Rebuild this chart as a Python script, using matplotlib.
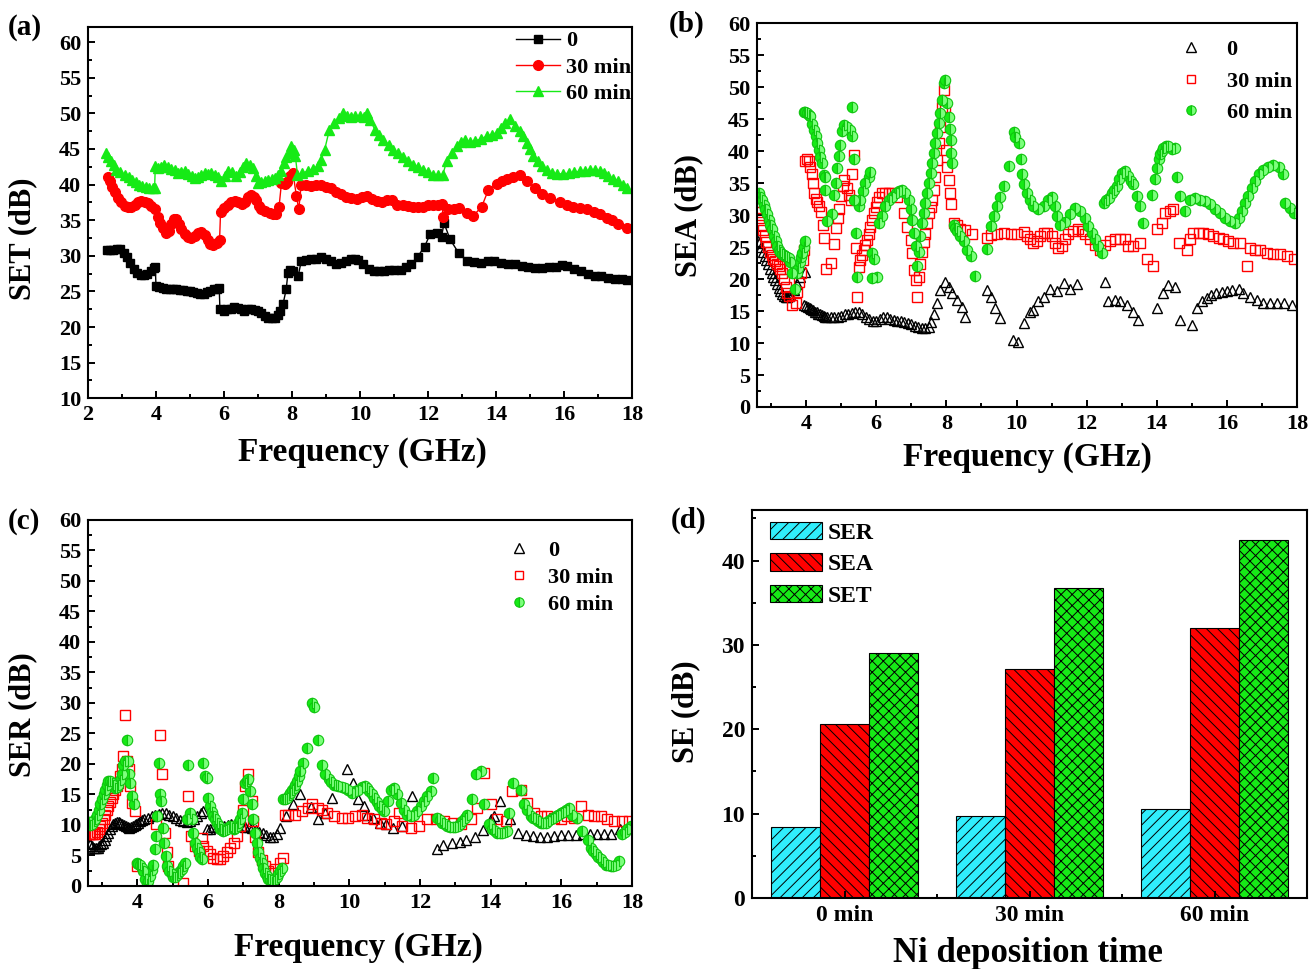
import numpy as np
import matplotlib.pyplot as plt
from matplotlib.ticker import MultipleLocator

plt.rcParams['font.family'] = ['Liberation Serif', 'DejaVu Serif']
plt.rcParams['font.weight'] = 'bold'
plt.rcParams['axes.labelweight'] = 'bold'
plt.rcParams['hatch.linewidth'] = 0.7

GREEN = '#16ea16'
RED = '#ff0000'
CYAN = '#30eefc'

# ---------------- (a) SET vs frequency ----------------
fa0 = [2.55, 2.65, 2.75, 2.85, 2.95, 3.05, 3.15, 3.25, 3.35, 3.45, 3.55, 3.65, 3.75, 3.85, 3.93, 3.98,
       4.0, 4.1, 4.2, 4.3, 4.4, 4.5, 4.6, 4.7, 4.8, 4.9, 5.0, 5.1, 5.2, 5.3, 5.4, 5.5, 5.6, 5.7, 5.8, 5.86,
       5.88, 6.0, 6.1, 6.2, 6.3, 6.4, 6.5, 6.6, 6.7, 6.8, 6.9, 7.0, 7.1, 7.2, 7.3, 7.4, 7.5, 7.6, 7.65,
       7.74, 7.83, 7.88, 7.95, 8.03, 8.18, 8.27, 8.4, 8.55, 8.7, 8.86, 9.0, 9.15, 9.3, 9.45, 9.6, 9.75,
       9.84, 9.95, 10.1, 10.25, 10.4, 10.55, 10.7, 10.85, 11.0, 11.2, 11.35, 11.5, 11.7, 11.9, 12.06,
       12.25, 12.4, 12.47, 12.65, 12.9, 13.14, 13.35, 13.55, 13.75, 13.95, 14.15, 14.35, 14.55, 14.75,
       14.95, 15.15, 15.35, 15.55, 15.75, 15.95, 16.1, 16.3, 16.5, 16.7, 16.9, 17.1, 17.3, 17.5, 17.7, 17.85]
set0 = [30.8, 30.8, 30.8, 31.0, 30.9, 30.4, 29.8, 29.0, 28.2, 27.6, 27.3, 27.3, 27.5, 27.9, 28.3, 28.4,
        25.8, 25.6, 25.5, 25.4, 25.4, 25.3, 25.3, 25.2, 25.2, 25.1, 25.1, 24.9, 24.8, 24.7, 24.7, 24.9, 25.1, 25.3, 25.4, 25.5,
        22.5, 22.3, 22.5, 22.6, 22.8, 22.7, 22.5, 22.3, 22.5, 22.5, 22.4, 22.2, 21.9, 21.6, 21.3, 21.2, 21.3, 21.7, 22.3,
        23.3, 25.3, 27.6, 28.0, 27.8, 27.1, 29.2, 29.4, 29.5, 29.6, 29.8, 29.6, 29.3, 28.9, 29.0, 29.3, 29.5,
        29.6, 29.4, 28.8, 28.2, 27.9, 27.8, 27.9, 28.0, 28.0, 28.0, 28.4, 28.8, 29.9, 31.3, 33.0,
        33.2, 32.7, 34.6, 32.3, 30.4, 29.3, 29.1, 29.0, 29.2, 29.2, 29.0, 28.9, 28.8, 28.6,
        28.4, 28.3, 28.3, 28.4, 28.4, 28.7, 28.6, 28.2, 27.8, 27.4, 27.1, 27.1, 26.9, 26.8, 26.7, 26.6]

fa30 = [2.58, 2.65, 2.72, 2.8, 2.88, 2.97, 3.08, 3.18, 3.27, 3.37, 3.47, 3.57, 3.67, 3.76, 3.86, 3.96,
        4.06, 4.13, 4.2, 4.3, 4.38, 4.45, 4.53, 4.6, 4.68, 4.75, 4.85, 4.94, 5.04, 5.14, 5.24, 5.33, 5.43,
        5.53, 5.6, 5.68, 5.78, 5.87, 5.9, 6.0, 6.12, 6.22, 6.31, 6.42, 6.52, 6.62, 6.72, 6.8, 6.88, 6.95,
        7.03, 7.1, 7.22, 7.34, 7.44, 7.54, 7.62, 7.69, 7.78, 7.86, 7.95, 8.03, 8.13, 8.2, 8.27, 8.4, 8.55,
        8.7, 8.86, 9.0, 9.15, 9.3, 9.45, 9.6, 9.75, 9.9, 10.05, 10.2, 10.35, 10.5, 10.65, 10.8, 10.95,
        11.08, 11.25, 11.4, 11.55, 11.7, 11.85, 12.0, 12.15, 12.3, 12.4, 12.45, 12.6, 12.75, 12.9, 13.14,
        13.33, 13.58, 13.77, 14.02, 14.18, 14.31, 14.5, 14.7, 14.9, 15.15, 15.34, 15.6, 15.88, 16.08,
        16.27, 16.47, 16.67, 16.87, 17.06, 17.25, 17.4, 17.6, 17.84]
set30 = [41.0, 40.5, 39.7, 38.9, 38.1, 37.5, 37.0, 36.9, 36.9, 37.2, 37.6, 37.7, 37.6, 37.4, 37.0, 36.6,
         35.5, 34.6, 33.9, 33.2, 33.5, 34.5, 35.1, 35.2, 34.5, 33.8, 33.1, 32.6, 32.5, 32.8, 33.2, 33.4, 32.9,
         32.2, 31.7, 31.5, 31.8, 32.2, 36.2, 36.7, 37.2, 37.5, 37.7, 37.5, 37.3, 37.6, 38.2, 38.6, 38.3, 37.8,
         37.0, 36.6, 36.3, 36.0, 35.8, 35.8, 36.9, 40.2, 40.1, 40.4, 41.2, 41.6, 38.4, 36.5, 40.0, 39.9, 39.8,
         39.9, 40.0, 39.7, 39.5, 39.0, 38.7, 38.3, 38.1, 38.0, 38.3, 38.4, 38.0, 37.7, 37.6, 37.8, 37.9,
         37.2, 37.1, 37.0, 36.9, 36.9, 36.9, 37.1, 37.1, 37.2, 37.3, 35.5, 36.5, 36.6, 36.7, 36.0,
         35.6, 36.9, 39.2, 40.1, 40.5, 40.8, 41.0, 41.3, 40.5, 39.5, 38.7, 38.1, 37.6, 37.2,
         36.9, 36.7, 36.5, 36.2, 35.8, 35.3, 35.0, 34.4, 33.9]

fa60 = [2.54, 2.6, 2.69, 2.76, 2.83, 2.95, 3.08, 3.2, 3.3, 3.4, 3.5, 3.6, 3.7, 3.8, 3.9, 3.96, 3.98, 4.05,
        4.15, 4.25, 4.35, 4.45, 4.55, 4.65, 4.75, 4.84, 4.95, 5.05, 5.14, 5.24, 5.33, 5.43, 5.53, 5.63,
        5.73, 5.83, 5.92, 6.02, 6.12, 6.24, 6.36, 6.46, 6.56, 6.66, 6.76, 6.85, 6.93, 7.0, 7.1, 7.2, 7.3,
        7.4, 7.49, 7.6, 7.69, 7.76, 7.83, 7.9, 7.98, 8.05, 8.1, 8.16, 8.3, 8.47, 8.62, 8.76, 8.86, 8.96,
        9.1, 9.25, 9.38, 9.5, 9.62, 9.74, 9.86, 10.0, 10.12, 10.2, 10.3, 10.44, 10.56, 10.69, 10.84,
        10.98, 11.12, 11.27, 11.42, 11.57, 11.72, 11.86, 12.0, 12.16, 12.3, 12.43, 12.55, 12.7, 12.84,
        12.97, 13.09, 13.23, 13.38, 13.55, 13.73, 13.88, 14.02, 14.14, 14.26, 14.41, 14.56, 14.7, 14.8,
        14.9, 15.0, 15.1, 15.22, 15.34, 15.5, 15.64, 15.8, 15.98, 16.15, 16.3, 16.47, 16.62, 16.76,
        16.91, 17.05, 17.18, 17.3, 17.45, 17.6, 17.72, 17.84]
set60 = [44.5, 43.9, 43.3, 42.7, 42.1, 41.7, 41.4, 41.0, 40.6, 40.3, 40.0, 39.8, 39.6, 39.5, 39.5, 39.5, 42.6, 42.3,
         42.5, 42.8, 42.5, 42.2, 42.1, 41.6, 41.8, 41.9, 41.5, 41.2, 40.9, 41.1, 41.4, 41.6, 41.5, 41.6,
         41.4, 41.0, 40.5, 41.2, 41.9, 41.7, 41.2, 41.8, 42.5, 43.0, 42.7, 42.3, 41.2, 40.2, 40.3, 40.5, 40.7,
         40.8, 40.9, 41.4, 41.9, 43.0, 43.8, 44.5, 45.4, 44.9, 44.0, 41.4, 41.6, 41.9, 42.2, 42.6, 43.5, 44.9,
         47.7, 48.7, 49.4, 50.0, 49.6, 49.5, 49.6, 49.6, 49.5, 50.1, 49.0, 47.7, 47.0, 46.3, 45.6,
         44.9, 44.4, 43.8, 43.3, 42.8, 42.4, 42.1, 41.7, 41.4, 41.3, 41.3, 43.3, 44.5, 45.4,
         46.0, 46.3, 46.0, 46.1, 46.4, 46.8, 47.0, 47.3, 48.0, 48.7, 49.2, 48.2, 47.5, 46.8,
         45.9, 45.0, 44.0, 43.3, 42.6, 42.0, 41.6, 41.5, 41.5, 41.6, 41.7, 41.9, 41.9, 42.0,
         42.1, 41.9, 41.6, 41.2, 40.8, 40.5, 40.0, 39.5]

# ---------------- (b) SEA vs frequency ----------------
fb0 = [2.62, 2.67, 2.72, 2.77, 2.82, 2.87, 2.92, 2.97, 3.02, 3.07, 3.12, 3.17, 3.22, 3.27, 3.32, 3.37, 3.42,
       3.47, 3.52, 3.55, 3.65, 3.74, 3.84, 3.98, 3.95, 4.0, 4.05, 4.1, 4.15, 4.2, 4.25, 4.3, 4.35, 4.4, 4.45,
       4.5, 4.55, 4.6, 4.7, 4.8, 4.9, 5.0, 5.1, 5.2, 5.3, 5.4, 5.5, 5.6, 5.7, 5.8, 5.9, 6.0, 6.1, 6.2, 6.3,
       6.4, 6.5, 6.6, 6.7, 6.8, 6.9, 7.0, 7.1, 7.2, 7.3, 7.4, 7.5, 7.55, 7.64, 7.74, 7.83, 7.97, 8.07, 8.16,
       8.31, 8.45, 8.54, 9.16, 9.26, 9.4, 9.54, 9.9, 10.05, 10.2, 10.39, 10.48, 10.62, 10.77, 10.96, 11.15,
       11.34, 11.53, 11.72, 12.52, 12.62, 12.81, 12.95, 13.14, 13.33, 13.47, 14.0, 14.19, 14.33, 14.52,
       14.66, 14.99, 15.14, 15.28, 15.42, 15.55, 15.7, 15.85, 15.99, 16.15, 16.33, 16.47, 16.66, 16.85,
       17.04, 17.24, 17.44, 17.64, 17.85]
sea0 = [26.0, 25.6, 25.0, 24.3, 23.6, 23.0, 22.3, 21.6, 21.0, 20.4, 19.8, 19.2, 18.6, 18.1, 17.6, 17.3, 17.2,
        17.2, 17.3, 17.5, 18.3, 19.3, 20.4, 21.1, 16.0, 15.8, 15.6, 15.4, 15.3, 15.1, 14.9, 14.8, 14.6, 14.5, 14.4,
        14.2, 14.1, 14.0, 14.0, 14.0, 14.1, 14.3, 14.5, 14.6, 14.7, 14.8, 14.8, 14.5, 14.1, 13.7, 13.5, 13.5, 13.8, 14.0, 14.0,
        13.8, 13.6, 13.5, 13.4, 13.3, 13.1, 12.9, 12.7, 12.5, 12.4, 12.4, 12.5, 13.3, 14.6, 16.2, 18.3, 19.6, 18.8, 17.8,
        16.7, 15.7, 14.1, 18.3, 17.2, 15.4, 13.9, 10.4, 10.1, 13.1, 14.9, 15.2, 16.5, 17.2, 18.5, 18.1,
        19.4, 18.5, 19.3, 19.6, 16.5, 16.8, 16.5, 15.9, 14.9, 13.6, 15.4, 17.8, 19.1, 18.7,
        13.6, 12.8, 15.4, 16.5, 17.0, 17.5, 17.8, 18.0, 18.2, 18.3, 18.5, 17.8, 17.2, 16.7,
        16.3, 16.3, 16.3, 16.3, 16.0]

fb30 = [2.62, 2.67, 2.72, 2.77, 2.82, 2.87, 2.92, 2.97, 3.02, 3.07, 3.12, 3.17, 3.22, 3.27, 3.32, 3.37,
        3.42, 3.47, 3.52, 3.6, 3.7, 3.75, 3.8, 3.85, 3.9, 3.95, 3.97, 4.02, 4.07, 4.12, 4.17, 4.2, 4.24,
        4.28, 4.32, 4.38, 4.42, 4.47, 4.52, 4.57, 4.72, 4.8, 4.85, 4.9, 4.95, 5.0, 5.04, 5.09, 5.17, 5.22,
        5.27, 5.31, 5.36, 5.41, 5.45, 5.5, 5.55, 5.6, 5.65, 5.69, 5.74, 5.79, 5.83, 5.88, 5.93, 5.98, 6.03,
        6.07, 6.17, 6.26, 6.36, 6.45, 6.6, 6.79, 6.88, 6.98, 7.02, 7.07, 7.12, 7.17, 7.21, 7.26, 7.31, 7.36,
        7.4, 7.45, 7.5, 7.55, 7.6, 7.64, 7.69, 7.74, 7.78, 7.83, 7.88, 7.93, 7.97, 7.99, 8.02, 8.07, 8.1,
        8.14, 8.21, 8.31, 8.4, 8.54, 8.73, 9.16, 9.26, 9.45, 9.64, 9.83, 10.02, 10.2, 10.29, 10.39, 10.48,
        10.58, 10.67, 10.77, 10.86, 11.0, 11.1, 11.19, 11.29, 11.38, 11.48, 11.62, 11.76, 11.86, 11.95,
        12.1, 12.24, 12.38, 12.52, 12.67, 12.81, 12.95, 13.1, 13.19, 13.33, 13.52, 13.71, 13.9, 14.0,
        14.14, 14.23, 14.38, 14.47, 14.62, 14.85, 14.95, 15.04, 15.19, 15.33, 15.47, 15.61, 15.76, 15.9,
        16.04, 16.18, 16.37, 16.56, 16.66, 16.8, 16.94, 17.13, 17.32, 17.51, 17.7, 17.9]
sea30 = [30.5, 29.5, 28.5, 27.6, 26.7, 25.8, 25.0, 24.3, 23.7, 23.2, 22.8, 22.4, 22.0, 21.6, 21.0, 20.0,
         18.8, 17.8, 17.3, 16.0, 16.3, 18.0, 19.5, 21.0, 23.0, 24.5, 38.5, 38.8, 38.5, 37.5, 36.5, 35.0, 33.5,
         32.5, 32.0, 31.5, 30.5, 28.5, 26.5, 21.5, 22.5, 25.5, 28.0, 29.5, 31.0, 33.0, 34.5, 35.5, 34.2, 33.1,
         32.3, 36.5, 39.4, 24.8, 17.2, 21.9, 23.0, 23.8, 24.5, 25.3, 26.1, 27.1, 28.2, 29.2, 30.3, 31.3, 32.1,
         32.9, 33.4, 33.4, 33.4, 33.4, 32.9, 30.3, 28.2, 26.1, 24.0, 21.4, 19.8, 17.2, 20.4, 22.4, 24.3, 25.8,
         27.1, 28.7, 30.3, 31.3, 32.3, 33.9, 36.0, 38.6, 41.2, 43.8, 46.9, 49.5, 46.4, 40.2, 37.6, 35.5, 33.4,
         31.8, 28.7, 28.4, 27.9, 27.7, 27.1, 26.4, 26.9, 27.1, 27.2, 27.0, 27.0, 27.3, 26.7, 26.2, 25.7,
         25.9, 26.7, 27.2, 27.2, 26.7, 25.7, 24.9, 25.2, 26.2, 27.0, 27.5, 27.8, 27.5, 27.0,
         26.2, 25.4, 24.6, 25.4, 25.9, 26.2, 26.2, 26.2, 25.2, 25.2, 25.7, 23.1, 22.0, 27.8,
         28.8, 30.4, 30.6, 30.9, 25.7, 24.6, 26.2, 27.2, 27.2, 27.2, 27.0, 26.7, 26.5, 26.2,
         25.9, 25.7, 25.7, 22.0, 24.9, 24.6, 24.6, 24.1, 23.9, 23.9, 23.6, 23.2]

fb60 = [2.65, 2.7, 2.75, 2.8, 2.84, 2.89, 2.94, 2.98, 3.03, 3.08, 3.13, 3.18, 3.22, 3.27, 3.32, 3.37, 3.41,
        3.46, 3.51, 3.55, 3.6, 3.67, 3.74, 3.78, 3.82, 3.86, 3.89, 3.94, 3.98, 3.93, 3.98, 4.03, 4.08, 4.12,
        4.17, 4.22, 4.27, 4.31, 4.36, 4.41, 4.46, 4.5, 4.55, 4.55, 4.6, 4.74, 4.79, 4.84, 4.88, 4.93, 4.98,
        5.03, 5.09, 5.17, 5.25, 5.31, 5.31, 5.36, 5.36, 5.41, 5.45, 5.5, 5.55, 5.63, 5.69, 5.79, 5.83, 5.88,
        5.93, 5.88, 6.03, 6.07, 6.17, 6.26, 6.36, 6.45, 6.55, 6.64, 6.74, 6.83, 6.93, 6.99, 7.03, 7.07, 7.12,
        7.17, 7.21, 7.26, 7.31, 7.36, 7.4, 7.45, 7.5, 7.55, 7.59, 7.64, 7.69, 7.74, 7.78, 7.83, 7.88, 7.93,
        7.97, 8.02, 8.07, 8.1, 8.12, 8.12, 8.16, 8.21, 8.26, 8.31, 8.4, 8.5, 8.59, 8.69, 8.83, 9.16, 9.26,
        9.35, 9.45, 9.54, 9.64, 9.78, 9.92, 9.97, 10.07, 10.12, 10.17, 10.22, 10.29, 10.39, 10.48, 10.62,
        10.77, 10.91, 11.0, 11.1, 11.15, 11.24, 11.38, 11.53, 11.67, 11.81, 11.95, 12.05, 12.14, 12.24,
        12.33, 12.43, 12.49, 12.56, 12.64, 12.71, 12.79, 12.86, 12.93, 13.0, 13.09, 13.19, 13.26, 13.33,
        13.43, 13.52, 13.62, 13.85, 13.95, 14.0, 14.05, 14.09, 14.14, 14.19, 14.26, 14.33, 14.43, 14.52,
        14.57, 14.66, 14.81, 14.95, 15.09, 15.23, 15.38, 15.52, 15.66, 15.8, 15.95, 16.09, 16.23, 16.33,
        16.42, 16.52, 16.61, 16.71, 16.8, 16.9, 17.04, 17.18, 17.32, 17.47, 17.61, 17.66, 17.8, 17.9]
sea60 = [33.4, 32.9, 32.4, 31.6, 30.9, 30.1, 29.3, 28.5, 27.8, 26.8, 25.9, 25.2, 24.6, 24.2, 23.9, 23.7, 23.6,
         23.4, 23.3, 22.6, 21.0, 18.4, 21.0, 21.8, 22.6, 23.4, 24.1, 25.0, 25.9, 46.2, 46.1, 45.9, 45.7, 45.5,
         44.3, 43.3, 42.3, 41.2, 40.2, 39.1, 38.1, 36.3, 33.9, 36.0, 29.1, 30.1, 33.2, 35.0, 37.4, 39.2, 41.0,
         43.1, 44.1, 43.8, 43.3, 46.9, 42.3, 38.7, 32.4, 27.2, 20.4, 31.4, 32.4, 33.7, 35.0, 36.0, 36.8, 24.1,
         23.1, 20.1, 20.4, 28.8, 29.8, 31.4, 32.4, 32.9, 33.5, 33.7, 34.0, 33.5, 32.4, 30.9, 29.3, 27.2, 25.2,
         22.0, 24.3, 26.7, 28.8, 30.4, 31.9, 33.5, 35.1, 36.6, 38.2, 39.7, 41.3, 42.9, 44.4, 46.0, 48.0, 50.6,
         51.1, 47.5, 45.4, 43.4, 41.8, 39.7, 38.1, 28.5, 28.0, 27.5, 26.7, 25.9, 24.6, 23.6, 20.5, 24.7, 28.3,
         29.8, 31.4, 32.9, 34.5, 37.7, 43.0, 42.2, 41.3, 38.7, 36.5, 34.8, 33.5, 32.4, 31.4, 30.9,
         31.4, 32.4, 32.9, 31.4, 29.8, 28.5, 29.0, 30.1, 31.1, 30.6, 29.6, 28.3, 27.2, 26.2,
         25.2, 24.1, 31.9, 32.3, 32.7, 33.5, 34.0, 34.5, 35.6, 36.6, 36.9, 36.1, 35.4, 34.8,
         33.0, 31.4, 28.8, 33.2, 35.6, 37.4, 38.7, 39.5, 40.0, 40.5, 40.8, 40.8, 40.3, 40.5,
         36.0, 33.0, 30.6, 32.4, 32.7, 32.4, 32.2, 31.7, 30.9, 30.4, 29.6, 29.1, 28.8, 29.6,
         30.6, 31.9, 33.0, 34.3, 35.3, 36.4, 37.1, 37.6, 37.8, 37.6, 36.4, 31.9, 31.1, 30.4]

# ---------------- (c) SER vs frequency ----------------
fc0 = [2.62, 2.67, 2.72, 2.77, 2.82, 2.87, 2.92, 2.97, 3.02, 3.07, 3.12, 3.17, 3.22, 3.27, 3.32, 3.37, 3.42,
       3.47, 3.52, 3.57, 3.62, 3.67, 3.72, 3.77, 3.82, 3.87, 3.92, 3.97, 4.02, 4.07, 4.12, 4.2, 4.3, 4.4, 4.5,
       4.6, 4.7, 4.8, 4.9, 5.0, 5.1, 5.2, 5.3, 5.4, 5.5, 5.6, 5.7, 5.8, 5.87, 5.96, 6.05, 6.15, 6.25, 6.35,
       6.45, 6.55, 6.65, 6.75, 6.85, 6.95, 7.05, 7.15, 7.25, 7.35, 7.45, 7.55, 7.65, 7.75, 7.85, 7.94, 8.04,
       8.2, 8.4, 8.6, 8.9, 9.12, 9.3, 9.5, 9.92, 10.11, 10.25, 10.4, 10.49, 10.68, 10.86, 11.05, 11.24,
       11.48, 11.76, 12.47, 12.65, 12.89, 13.12, 13.31, 13.55, 13.78, 14.02, 14.1, 14.25, 14.54, 14.77,
       15.0, 15.2, 15.4, 15.6, 15.8, 16.0, 16.2, 16.4, 16.6, 16.8, 17.0, 17.2, 17.4, 17.65]
ser0 = [7.1, 6.8, 6.5, 6.3, 6.3, 6.3, 6.5, 6.8, 7.1, 7.6, 8.2, 8.7, 9.3, 9.8, 10.1, 10.3, 10.5,
        10.5, 10.3, 10.2, 10.0, 9.8, 9.6, 9.5, 9.6, 9.8, 10.0, 10.2, 10.4, 10.6, 10.8, 11.0, 11.2, 11.4, 11.6,
        11.8, 12.0, 11.9, 11.7, 11.4, 11.1, 10.8, 10.6, 10.5, 10.6, 10.9, 11.4, 11.9, 12.3, 9.3, 9.4, 9.6, 9.7, 9.8,
        9.9, 10.0, 10.1, 10.0, 9.9, 9.8, 9.7, 9.6, 9.5, 9.2, 8.9, 8.6, 8.3, 8.1, 8.1, 8.5, 9.5,
        11.5, 13.5, 15.0, 13.0, 10.9, 12.0, 14.5, 19.1, 16.9, 14.2, 13.1, 11.7, 11.2, 10.4, 10.2, 9.5,
        9.8, 14.8, 6.0, 6.7, 7.1, 7.2, 7.5, 8.1, 9.2, 10.9, 11.5, 13.9, 10.9, 8.7,
        8.3, 8.2, 8.1, 8.1, 8.2, 8.3, 8.4, 8.4, 8.5, 8.5, 8.5, 8.5, 8.5, 9.3]

fc30 = [2.62, 2.66, 2.71, 2.76, 2.8, 2.85, 2.9, 2.95, 3.0, 3.04, 3.08, 3.13, 3.18, 3.22, 3.27, 3.32, 3.37,
        3.41, 3.46, 3.51, 3.56, 3.6, 3.65, 3.7, 3.75, 3.79, 3.84, 3.93, 4.0, 4.52, 4.64, 4.7, 4.78, 4.84,
        4.87, 5.3, 5.43, 5.51, 5.63, 5.75, 5.82, 5.87, 5.96, 6.06, 6.15, 6.25, 6.34, 6.43, 6.53, 6.62, 6.72,
        6.81, 6.91, 7.0, 7.05, 7.14, 7.24, 7.28, 7.33, 7.42, 7.52, 7.61, 7.71, 7.8, 7.9, 8.04, 8.13, 8.18,
        8.27, 8.46, 8.65, 8.84, 8.93, 9.12, 9.22, 9.36, 9.55, 9.78, 9.97, 10.16, 10.35, 10.51, 10.7, 10.89,
        11.03, 11.26, 11.4, 11.5, 11.74, 11.97, 12.21, 12.44, 12.68, 12.92, 13.15, 13.43, 13.62, 13.81,
        14.0, 14.19, 14.42, 14.61, 14.85, 15.04, 15.23, 15.42, 15.6, 15.79, 15.98, 16.17, 16.36, 16.55,
        16.74, 16.92, 17.11, 17.3, 17.49, 17.73, 17.92]
ser30 = [8.5, 8.5, 8.5, 8.5, 8.5, 8.9, 9.3, 9.8, 10.4, 11.0, 11.7, 12.4, 13.1, 13.8, 14.5, 15.1, 15.8,
         16.4, 16.9, 18.0, 19.1, 21.3, 28.0, 20.5, 19.1, 16.4, 13.6, 12.3, 3.3, 10.1, 24.7, 18.4, 8.7, 5.5,
         3.3, 0.5, 14.7, 8.2, 6.5, 5.7, 7.9, 6.5, 5.7, 5.2, 4.6, 4.4, 4.4, 4.9, 5.5, 6.3, 7.1,
         8.2, 9.8, 12.5, 16.4, 18.3, 13.9, 10.6, 8.0, 5.5, 4.2, 3.3, 2.5, 2.2, 2.7, 3.8, 4.6, 11.7,
         11.7, 11.7, 12.3, 12.8, 13.4, 12.8, 12.5, 12.0, 11.5, 11.2, 11.2, 11.5, 11.7, 11.2, 10.9, 10.4,
         10.1, 10.6, 12.0, 9.8, 9.5, 9.9, 10.9, 10.9, 10.6, 10.4, 10.1, 10.9, 12.8, 18.5,
         13.4, 10.9, 10.6, 15.5, 15.8, 13.6, 12.0, 11.5, 11.5, 11.2, 10.9, 11.5, 11.2, 13.1,
         11.7, 11.5, 11.5, 10.9, 10.6, 10.6, 10.6]

fc60 = [2.62, 2.67, 2.71, 2.76, 2.8, 2.85, 2.9, 2.95, 3.0, 3.04, 3.08, 3.13, 3.18, 3.22, 3.27, 3.32, 3.37,
        3.41, 3.46, 3.51, 3.56, 3.6, 3.65, 3.7, 3.72, 3.75, 3.79, 3.84, 3.89, 3.98, 4.03, 4.08, 4.13, 4.17,
        4.22, 4.26, 4.31, 4.36, 4.41, 4.45, 4.5, 4.53, 4.56, 4.6, 4.64, 4.67, 4.71, 4.75, 4.8, 4.85, 4.9,
        4.97, 5.02, 5.07, 5.12, 5.16, 5.21, 5.25, 5.3, 5.35, 5.4, 5.44, 5.49, 5.54, 5.58, 5.63, 5.68, 5.73,
        5.78, 5.82, 5.87, 5.91, 5.96, 6.0, 6.06, 6.1, 6.15, 6.2, 6.25, 6.3, 6.34, 6.39, 6.43, 6.48, 6.53,
        6.58, 6.62, 6.67, 6.72, 6.77, 6.81, 6.86, 6.91, 6.95, 7.0, 7.05, 7.1, 7.14, 7.19, 7.24, 7.28, 7.33,
        7.38, 7.42, 7.47, 7.52, 7.56, 7.61, 7.66, 7.71, 7.75, 7.8, 7.85, 7.9, 7.94, 7.99, 8.04, 8.08, 8.13,
        8.18, 8.23, 8.28, 8.32, 8.37, 8.42, 8.46, 8.51, 8.56, 8.61, 8.7, 8.8, 8.95, 9.0, 9.12, 9.22, 9.31,
        9.41, 9.48, 9.55, 9.62, 9.69, 9.78, 9.88, 9.97, 10.07, 10.16, 10.25, 10.35, 10.44, 10.5, 10.56,
        10.63, 10.7, 10.77, 10.84, 10.91, 10.98, 11.08, 11.17, 11.26, 11.36, 11.45, 11.55, 11.64, 11.74,
        11.83, 11.92, 12.02, 12.11, 12.21, 12.3, 12.38, 12.49, 12.56, 12.63, 12.7, 12.77, 12.85, 12.92,
        12.99, 13.06, 13.13, 13.2, 13.27, 13.34, 13.48, 13.58, 13.72, 13.81, 13.95, 14.05, 14.12, 14.19,
        14.26, 14.33, 14.4, 14.47, 14.52, 14.64, 14.85, 14.94, 15.04, 15.13, 15.2, 15.27, 15.35, 15.42,
        15.49, 15.56, 15.63, 15.7, 15.77, 15.84, 15.91, 15.98, 16.05, 16.12, 16.22, 16.31, 16.45, 16.59,
        16.74, 16.83, 16.9, 16.97, 17.04, 17.11, 17.18, 17.25, 17.32, 17.4, 17.47, 17.54, 17.63, 17.73,
        17.8, 17.87, 17.96]
ser60 = [10.5, 10.0, 10.2, 10.6, 10.9, 11.7, 12.5, 13.4, 14.2, 15.0, 15.8, 16.5, 17.2, 17.2, 16.9, 16.5, 16.1,
         16.2, 16.6, 17.4, 18.3, 19.9, 20.5, 24.0, 20.5, 18.3, 16.9, 14.7, 13.4, 3.8, 3.6, 3.5, 3.0, 2.5,
         1.1, 0.3, 0.8, 1.6, 2.6, 3.5, 6.0, 8.2, 11.5, 20.2, 15.0, 13.9, 9.5, 7.1, 4.9, 3.3, 2.4,
         1.9, 1.4, 1.4, 1.8, 2.2, 2.5, 2.7, 3.2, 3.8, 10.9, 19.9, 12.0, 10.9, 8.7, 7.1, 6.2, 5.5,
         4.8, 4.4, 20.2, 18.0, 17.7, 14.5, 13.1, 12.2, 11.5, 10.9, 10.4, 9.8, 9.3, 9.1, 9.0, 9.1, 9.3,
         9.6, 9.8, 9.5, 9.3, 9.5, 9.8, 10.3, 10.9, 12.0, 14.2, 16.9, 17.2, 17.5, 15.5, 13.4, 10.9, 8.7,
         7.1, 5.5, 4.6, 3.8, 3.0, 2.2, 1.6, 1.1, 0.9, 0.7, 0.8, 1.1, 1.5, 1.9, 2.4, 3.0, 14.2,
         14.3, 14.5, 14.9, 15.3, 15.7, 16.1, 16.6, 17.2, 18.0, 18.8, 20.2, 22.6, 30.0, 29.3, 24.0, 19.9, 18.3,
         17.5, 17.0, 16.6, 16.5, 16.4, 16.2, 16.1, 15.7, 15.3, 15.5, 15.8, 16.3, 16.4, 16.0, 15.5,
         15.0, 14.5, 13.8, 13.1, 12.6, 12.3, 13.9, 15.8, 16.1, 15.0, 13.6, 12.5, 11.7, 11.5,
         11.7, 12.3, 13.1, 13.9, 14.7, 15.5, 17.7, 11.2, 10.8, 10.4, 10.1, 9.8, 9.7, 9.7,
         9.7, 9.8, 10.2, 10.6, 11.1, 11.7, 14.2, 18.3, 18.8, 13.4, 10.1, 9.3, 9.0, 8.7,
         8.7, 8.7, 8.8, 9.0, 12.0, 16.9, 15.8, 13.4, 12.5, 11.5, 11.2, 10.9, 10.6, 10.4,
         10.4, 10.4, 10.6, 10.9, 11.2, 11.5, 11.7, 12.0, 12.2, 12.5, 12.8, 11.7, 11.2, 9.0,
         7.6, 6.3, 5.7, 5.2, 4.8, 4.4, 3.9, 3.5, 3.4, 3.3, 3.3, 3.5, 4.1, 8.5,
         8.9, 9.3, 9.8]

# ---------------- (d) bar summary ----------------
groups = ['0 min', '30 min', '60 min']
ser_bar = [8.4, 9.7, 10.6]
sea_bar = [20.6, 27.1, 32.0]
set_bar = [29.0, 36.8, 42.5]

fig = plt.figure(figsize=(13.11, 9.69), dpi=100)


def style(ax, tick_fs=16):
    for s in ax.spines.values():
        s.set_linewidth(1.5)
    ax.tick_params(which='both', direction='in', top=False, right=False, width=1.4,
                   labelsize=tick_fs, pad=5)
    ax.tick_params(which='major', length=5)
    ax.tick_params(which='minor', length=3)
    for t in ax.get_xticklabels() + ax.get_yticklabels():
        t.set_fontweight('bold')


lab_fs = 24
ylab_fs = 22
leg_prop = {'weight': 'bold', 'size': 16}

# (a)
axa = fig.add_axes([0.0671, 0.589, 0.415, 0.383])
axa.plot(fa0, set0, '-s', color='black', lw=1, ms=6, label='0')
axa.plot(fa30, set30, '-o', color=RED, lw=1, ms=7, label='30 min')
axa.plot(fa60, set60, '-^', color=GREEN, lw=1, ms=7, label='60 min')
axa.set_xlim(2, 18)
axa.set_ylim(10, 62.1)
axa.xaxis.set_major_locator(MultipleLocator(2))
axa.xaxis.set_minor_locator(MultipleLocator(1))
axa.yaxis.set_major_locator(MultipleLocator(5))
axa.yaxis.set_minor_locator(MultipleLocator(2.5))
axa.set_xlabel('Frequency (GHz)', fontsize=lab_fs)
axa.set_ylabel('SET (dB)', fontsize=ylab_fs)
axa.xaxis.set_label_coords(0.504, -0.105)
axa.yaxis.set_label_coords(-0.094, 0.43)
style(axa)
axa.legend(loc='upper right', bbox_to_anchor=(0.998, 0.99), frameon=False,
           handlelength=2.0, handletextpad=0.25, labelspacing=0.25, borderpad=0, borderaxespad=0,
           prop=leg_prop)

# (b)
axb = fig.add_axes([0.5774, 0.580, 0.412, 0.396])
axb.plot(fb0, sea0, ls='none', marker='^', ms=7.5, mfc='none', mec='black', mew=1, label='0')
axb.plot(fb30, sea30, ls='none', marker='s', ms=6.5, mfc='none', mec=RED, mew=1, label='30 min')
axb.plot(fb60, sea60, ls='none', marker='o', ms=7.5, mfc=GREEN, fillstyle='left',
         mfcalt='#7dff7d', mec='#0fc40f', mew=0.8, label='60 min')
axb.set_xlim(2.6, 18)
axb.set_ylim(0, 60)
axb.xaxis.set_major_locator(MultipleLocator(2))
axb.xaxis.set_minor_locator(MultipleLocator(1))
axb.yaxis.set_major_locator(MultipleLocator(5))
axb.yaxis.set_minor_locator(MultipleLocator(2.5))
axb.set_xlabel('Frequency (GHz)', fontsize=lab_fs)
axb.set_ylabel('SEA (dB)', fontsize=ylab_fs)
axb.xaxis.set_label_coords(0.5, -0.091)
axb.yaxis.set_label_coords(-0.10, 0.5)
style(axb)
axb.legend(loc='upper right', bbox_to_anchor=(0.99, 0.958), frameon=False,
           handlelength=1.0, handletextpad=1.1, labelspacing=0.5, borderpad=0, borderaxespad=0,
           markerscale=0.9, prop=leg_prop)

# (c)
axc = fig.add_axes([0.0671, 0.0857, 0.415, 0.3777])
axc.plot(fc0, ser0, ls='none', marker='^', ms=7.5, mfc='none', mec='black', mew=1, label='0')
axc.plot(fc30, ser30, ls='none', marker='s', ms=6.5, mfc='none', mec=RED, mew=1, label='30 min')
axc.plot(fc60, ser60, ls='none', marker='o', ms=7.5, mfc=GREEN, fillstyle='left',
         mfcalt='#7dff7d', mec='#0fc40f', mew=0.8, label='60 min')
axc.set_xlim(2.6, 18)
axc.set_ylim(0, 60)
axc.xaxis.set_major_locator(MultipleLocator(2))
axc.xaxis.set_minor_locator(MultipleLocator(1))
axc.yaxis.set_major_locator(MultipleLocator(5))
axc.yaxis.set_minor_locator(MultipleLocator(2.5))
axc.set_xlabel('Frequency (GHz)', fontsize=lab_fs)
axc.set_ylabel('SER (dB)', fontsize=ylab_fs)
axc.xaxis.set_label_coords(0.497, -0.126)
axc.yaxis.set_label_coords(-0.094, 0.467)
style(axc)
axc.legend(loc='upper right', bbox_to_anchor=(0.965, 0.945), frameon=False,
           handlelength=1.0, handletextpad=0.8, labelspacing=0.3, borderpad=0, borderaxespad=0,
           markerscale=0.9, prop=leg_prop)

# (d)
axd = fig.add_axes([0.5736, 0.0733, 0.4234, 0.4004])
x = np.arange(1, 4)
w = 0.265
axd.bar(x - w, ser_bar, w, color=CYAN, edgecolor='black', lw=0.8, hatch='///', label='SER')
axd.bar(x, sea_bar, w, color=RED, edgecolor='black', lw=0.8, hatch='\\\\\\', label='SEA')
axd.bar(x + w, set_bar, w, color=GREEN, edgecolor='black', lw=0.8, hatch='xxx', label='SET')
axd.set_xlim(0.5, 3.5)
axd.set_ylim(0, 46)
axd.set_xticks(x)
axd.set_xticklabels(groups)
axd.xaxis.set_minor_locator(MultipleLocator(0.5))
axd.yaxis.set_major_locator(MultipleLocator(10))
axd.yaxis.set_minor_locator(MultipleLocator(5))
axd.set_xlabel('Ni deposition time', fontsize=25)
axd.set_ylabel('SE (dB)', fontsize=ylab_fs)
axd.xaxis.set_label_coords(0.497, -0.10)
axd.yaxis.set_label_coords(-0.094, 0.48)
style(axd, tick_fs=17)
axd.tick_params(axis='x', which='minor', length=3)
axd.legend(loc='upper left', bbox_to_anchor=(0.032, 0.969), frameon=False,
           handlelength=2.2, handleheight=0.75, handletextpad=0.25, labelspacing=0.4,
           borderpad=0, borderaxespad=0, prop={'weight': 'bold', 'size': 17})

for xx, yy, t in [(0.006, 0.972, '(a)'), (0.510, 0.975, '(b)'), (0.006, 0.462, '(c)'), (0.512, 0.463, '(d)')]:
    fig.text(xx, yy, t, fontsize=21, fontweight='bold', va='center', ha='left')

fig.savefig('out.png', dpi=100)
